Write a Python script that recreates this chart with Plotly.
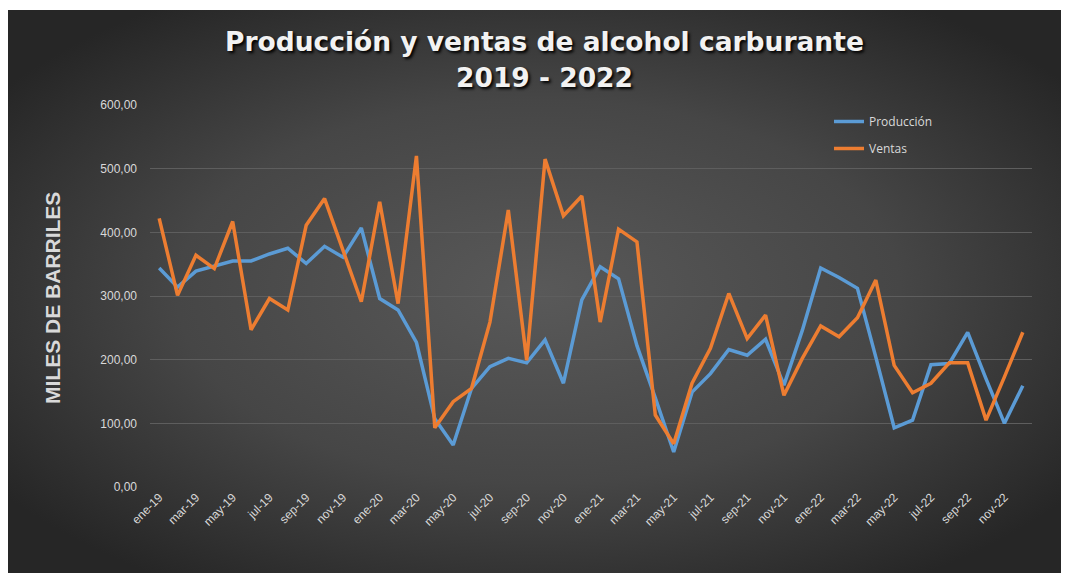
import base64
import plotly.graph_objects as go

months = ["ene", "feb", "mar", "abr", "may", "jun", "jul", "ago", "sep", "oct", "nov", "dic"]
years = ["19", "20", "21", "22"]
categories = [f"{m}-{y}" for y in years for m in months]

produccion = [344, 314, 339, 347, 355, 355, 366, 375, 351, 378, 361, 407,
              296, 278, 227, 107, 66, 155, 189, 202, 195, 231, 163, 294,
              346, 327, 222, 140, 55, 149, 178, 216, 207, 232, 160, 246,
              344, 329, 312, 204, 93, 105, 192, 194, 243, 170, 100, 159]

ventas = [422, 301, 364, 343, 417, 247, 296, 278, 411, 453, 372, 291,
          448, 288, 520, 93, 134, 155, 259, 435, 199, 515, 426, 457,
          259, 405, 385, 113, 68, 163, 218, 304, 233, 270, 144, 202,
          253, 236, 266, 325, 191, 148, 163, 195, 195, 105, 173, 243]

tick_labels = categories[::2]

W, H = 1061, 565
L, R, T, B = 142, 37, 97, 86
pw, ph = W - L - R, H - T - B
BOT = H - B  # figure row of plot bottom


def px(fx):
    return (fx - L) / pw


def py(fy):
    return (BOT - fy) / ph


svg = ('<svg xmlns="http://www.w3.org/2000/svg" width="1061" height="563" viewBox="0 0 1061 563">'
       '<defs><radialGradient id="g" cx="50%" cy="50%" r="62%">'
       '<stop offset="0" stop-color="#595959"/><stop offset="0.55" stop-color="#464646"/>'
       '<stop offset="1" stop-color="#262626"/></radialGradient></defs>'
       '<rect width="1061" height="563" fill="url(#g)"/></svg>')
src = "data:image/svg+xml;base64," + base64.b64encode(svg.encode()).decode()

fig = go.Figure()
fig.add_trace(go.Scatter(x=categories, y=produccion, mode="lines", name="Producción",
                         line=dict(color="#5B9BD5", width=3.5), legendgroup="a"))
fig.add_trace(go.Scatter(x=categories, y=ventas, mode="lines", name="Ventas",
                         line=dict(color="#ED7D31", width=3.5), legendgroup="b"))

title_font = dict(family="DejaVu Sans", size=26.5, color="#f2f2f2", weight="bold",
                  shadow="2px 2px 3px #000000")

fig.update_layout(
    width=W, height=H,
    margin=dict(l=L, r=R, t=T, b=B),
    paper_bgcolor="#262626",
    plot_bgcolor="rgba(0,0,0,0)",
    separators=",.",
    shapes=[dict(type="rect", xref="paper", yref="paper", x0=px(0), x1=px(W),
                 y0=py(0), y1=py(2), fillcolor="white", line=dict(width=0), layer="below")],
    images=[dict(source=src, xref="paper", yref="paper",
                 x=px(0), y=py(2), sizex=1061 / pw, sizey=563 / ph,
                 xanchor="left", yanchor="top", sizing="stretch", layer="below")],
    xaxis=dict(type="category", range=[-0.5, len(categories) - 0.5],
               tickmode="array", tickvals=tick_labels, ticktext=tick_labels,
               tickangle=-45, showgrid=False, zeroline=False, showline=False,
               ticks="", tickfont=dict(family="Liberation Sans", size=12, color="#d9d9d9")),
    yaxis=dict(range=[0, 600], tickvals=[0, 100, 200, 300, 400, 500, 600],
               tickformat=".2f", showgrid=True, gridcolor="#5e5e5e", gridwidth=1,
               zeroline=False, showline=False, ticks="", ticklabelstandoff=12,
               tickfont=dict(family="Liberation Sans", size=12, color="#d9d9d9")),
    legend=dict(x=px(821), y=py(99), xanchor="left", yanchor="top",
                bgcolor="rgba(0,0,0,0)", tracegroupgap=8,
                font=dict(family="Open Sans", size=12, color="#d9d9d9")),
    annotations=[
        dict(text="Producción y ventas de alcohol carburante", xref="paper", yref="paper",
             x=px(536), y=py(34), xanchor="center", yanchor="middle", showarrow=False,
             font=title_font),
        dict(text="2019 - 2022", xref="paper", yref="paper",
             x=px(536), y=py(69), xanchor="center", yanchor="middle", showarrow=False,
             font=title_font),
        dict(text="<b>MILES DE BARRILES</b>", textangle=-90,
             xref="paper", yref="paper", x=px(44), y=py(290),
             xanchor="center", yanchor="middle", showarrow=False,
             font=dict(family="Liberation Sans", size=21, color="#d9d9d9")),
    ],
)

fig.write_html("out.html")
